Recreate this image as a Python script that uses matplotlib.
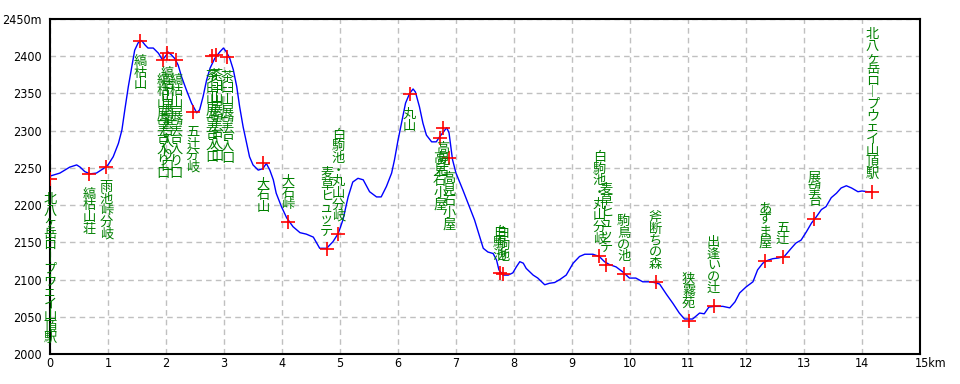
import matplotlib
matplotlib.use("Agg")
import matplotlib.pyplot as plt
import matplotlib.transforms as mtransforms

plt.rcParams['font.family'] = ['Noto Sans CJK JP', 'DejaVu Sans']

# ---- profile data (distance km, elevation m) ----
profile_km = [0.0, 0.17, 0.34, 0.46, 0.52, 0.6, 0.69, 0.8, 0.92, 1.0, 1.09, 1.18, 1.24, 1.29, 1.35,
              1.41, 1.46, 1.52, 1.58, 1.64, 1.69, 1.78, 1.87, 1.94, 2.01, 2.03, 2.09, 2.15, 2.21, 2.27,
              2.35, 2.44, 2.53, 2.58, 2.64, 2.7, 2.76, 2.84, 2.93, 2.99, 3.04, 3.1, 3.16, 3.22, 3.27,
              3.33, 3.39, 3.44, 3.5, 3.59, 3.67, 3.73, 3.79, 3.85, 3.9, 3.99, 4.08, 4.19, 4.31, 4.42,
              4.54, 4.65, 4.77, 4.88, 4.97, 5.05, 5.14, 5.22, 5.31, 5.4, 5.51, 5.63, 5.71, 5.8, 5.89,
              5.94, 6.0, 6.06, 6.13, 6.2, 6.26, 6.3, 6.37, 6.43, 6.49, 6.58, 6.66, 6.72, 6.79, 6.84,
              6.88, 6.91, 6.94, 7.0, 7.12, 7.23, 7.32, 7.41, 7.47, 7.55, 7.64, 7.7, 7.74, 7.81, 7.9,
              7.98, 8.04, 8.1, 8.16, 8.21, 8.33, 8.41, 8.53, 8.61, 8.7, 8.79, 8.9, 9.02, 9.13, 9.22,
              9.36, 9.47, 9.56, 9.65, 9.76, 9.88, 9.99, 10.1, 10.22, 10.37, 10.51, 10.63, 10.74, 10.85,
              10.94, 11.08, 11.2, 11.28, 11.36, 11.46, 11.6, 11.72, 11.81, 11.89, 12.0, 12.12, 12.2,
              12.29, 12.38, 12.46, 12.56, 12.66, 12.78, 12.86, 12.95, 13.04, 13.13, 13.21, 13.3, 13.38,
              13.47, 13.56, 13.64, 13.73, 13.82, 13.93, 14.0, 14.09, 14.18]
profile_m = [2239, 2243, 2251, 2254, 2251, 2245, 2242, 2243, 2249, 2254, 2265, 2283, 2301, 2328, 2359,
             2386, 2408, 2418, 2421, 2415, 2411, 2411, 2404, 2395, 2402, 2406, 2402, 2397, 2388, 2372,
             2355, 2337, 2324, 2328, 2346, 2368, 2384, 2397, 2406, 2411, 2406, 2397, 2382, 2359, 2332,
             2305, 2283, 2265, 2254, 2247, 2249, 2256, 2247, 2234, 2216, 2198, 2183, 2171, 2163, 2161,
             2157, 2142, 2142, 2151, 2162, 2180, 2211, 2231, 2236, 2234, 2218, 2211, 2211, 2225, 2243,
             2261, 2287, 2310, 2337, 2350, 2356, 2352, 2332, 2310, 2294, 2285, 2285, 2292, 2299, 2304,
             2297, 2279, 2261, 2243, 2220, 2198, 2180, 2157, 2142, 2137, 2135, 2126, 2113, 2106, 2106,
             2109, 2117, 2124, 2122, 2115, 2106, 2102, 2093, 2095, 2096, 2100, 2106, 2122, 2131, 2134,
             2134, 2131, 2124, 2120, 2117, 2110, 2102, 2102, 2097, 2097, 2094, 2080, 2068, 2055,
             2047, 2047, 2055, 2054, 2063, 2064, 2064, 2062, 2070, 2082, 2090, 2097, 2113,
             2122, 2126, 2128, 2129, 2131, 2142, 2149, 2153, 2164, 2176, 2184, 2194, 2198,
             2210, 2216, 2223, 2226, 2223, 2218, 2219, 2218, 2218]

# ---- waypoints ----
wp_km = [0.0, 0.67, 0.97, 1.55, 1.95, 2.02, 2.17, 2.46, 2.79, 2.87, 3.06, 3.68, 4.1, 4.77, 4.97,
         6.2, 6.72, 6.77, 6.88, 7.75, 7.81, 9.47, 9.59, 9.89, 10.44, 11.01, 11.44, 12.33, 12.63,
         13.18, 14.18]
wp_m = [2235, 2242, 2251, 2420, 2395, 2404, 2395, 2325, 2400, 2402, 2399, 2256, 2177, 2141, 2161,
        2349, 2290, 2303, 2263, 2109, 2107, 2131, 2120, 2107, 2097, 2045, 2064, 2125, 2130,
        2181, 2218]
wp_names = ["北八ヶ岳ロ︱プウェイ山頂駅", "縞枯山荘", "雨池峠分岐", "縞枯山",
            "縞枯山展望台入り口", "縞枯山展望台入り口", "縞枯山展望台入り口", "五辻分岐",
            "茶臼山展望台入口", "茶臼山展望台入口", "茶臼山展望台入口", "大石山", "大石峠",
            "麦草ヒュッテ", "白駒池・丸山分岐", "丸山", "高見石小屋", "高見石", "高見石小屋",
            "白駒池", "白駒池", "白駒池・丸山分岐", "麦草ヒュッテ", "駒鳥の池", "斧断ちの森",
            "狭霧苑", "出逢いの辻", "あずま屋", "五辻", "展望台", "北八ヶ岳ロ︱プウェイ山頂駅"]
wp_above = [False, False, False, False, False, False, False, False, False, False, False, False, True,
            True, True, False, False, False, False, True, True, True, True, True, True,
            True, True, True, True, True, True]

y_ticks = [2000, 2050, 2100, 2150, 2200, 2250, 2300, 2350, 2400, 2450]
y_labels = ["2000", "2050", "2100", "2150", "2200", "2250", "2300", "2350", "2400", "2450m"]
x_ticks = list(range(16))
x_labels = [str(i) for i in range(15)] + ["15km"]

W, H = 960, 384
fig = plt.figure(figsize=(W / 100, H / 100), dpi=100, facecolor='white')
ax = fig.add_axes([50 / W, 1 - 354 / H, 870 / W, 335 / H])
ax.set_xlim(0, 15)
ax.set_ylim(2000, 2450)

tick_kw = dict(family=['DejaVu Sans'], fontsize=9, fontstretch='condensed')
ax.set_xticks(x_ticks)
ax.set_xticklabels(x_labels, **tick_kw)
ax.set_yticks(y_ticks)
ax.set_yticklabels(y_labels, **tick_kw)
ax.tick_params(axis='both', length=0, colors='black')
ax.tick_params(axis='y', pad=6)
ax.tick_params(axis='x', pad=2)
for lab in ax.get_xticklabels():
    if lab.get_text().endswith('km'):
        lab.set_horizontalalignment('left')
        lab.set_transform(lab.get_transform() +
                          mtransforms.ScaledTranslation(-5 / 100, 0, fig.dpi_scale_trans))

ax.grid(True, color='#c0c0c0', linestyle=(0, (4, 3)), linewidth=1)
ax.set_axisbelow(True)
for s in ax.spines.values():
    s.set_color('black')
    s.set_linewidth(1.5)

ax.plot(profile_km, profile_m, color='#0000ff', linewidth=1, zorder=3)
ax.plot(wp_km, wp_m, linestyle='none', marker='+', color='#ff0000', markersize=10,
        markeredgewidth=1.2, zorder=4)

for k, m, name, above in zip(wp_km, wp_m, wp_names, wp_above):
    txt = "\n".join(list(name))
    if above:
        ax.annotate(txt, (k, m), xytext=(0, 8), textcoords='offset points',
                    ha='center', va='bottom', fontsize=9.5, color='#008000',
                    linespacing=0.86, zorder=5, annotation_clip=False)
    else:
        ax.annotate(txt, (k, m), xytext=(0, -10), textcoords='offset points',
                    ha='center', va='top', fontsize=9.5, color='#008000',
                    linespacing=0.86, zorder=5, annotation_clip=False)

fig.savefig('out.png', dpi=100, facecolor='white')
